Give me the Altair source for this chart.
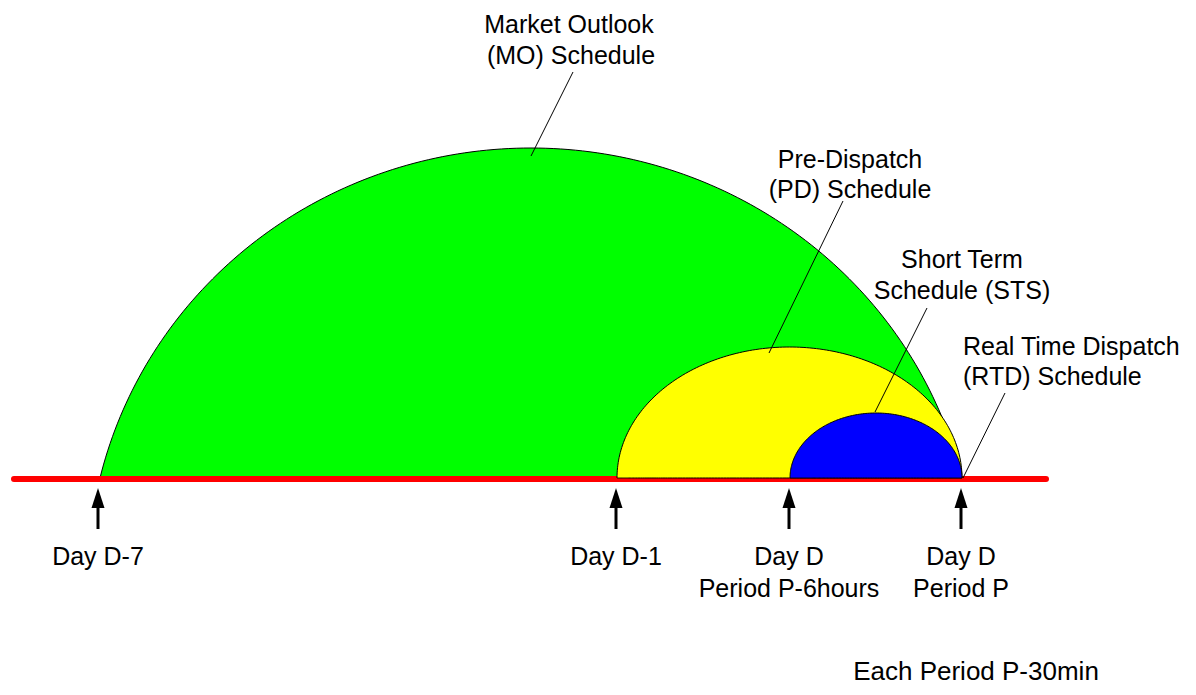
import altair as alt
import numpy as np
import pandas as pd

# ---- diagram values (reference-diagram units) ----
baseline_y = 478
timeline_x = [14, 1046]

event_x = [98, 616, 789, 961]
event_line1 = ["Day D-7", "Day D-1", "Day D", "Day D"]
event_line2 = ["", "", "Period P-6hours", "Period P"]

schedule_names = ["MO", "PD", "STS"]
schedule_start = [100, 617, 790]
schedule_end = [962, 962, 962]
schedule_top = [148, 347, 413]
schedule_depth = [100, 0, 0]   # how far the arc's centre sits below the timeline
schedule_color = ["#00ff00", "#ffff00", "#0000ff"]

center_text = ["Market Outlook", "(MO) Schedule", "Pre-Dispatch", "(PD) Schedule",
               "Short Term", "Schedule (STS)"]
center_text_x = [569, 571, 850, 850, 962, 962]
center_text_y = [33, 64, 168, 198, 268, 299]

left_text = ["Real Time Dispatch", "(RTD) Schedule"]
left_text_x = [963, 963]
left_text_y = [355, 385]

footer_text = ["Each Period P-30min"]
footer_x = [976]
footer_y = [680]

leader_x1 = [573, 843, 927, 1005]
leader_y1 = [72, 201, 308, 393]
leader_x2 = [531, 769, 875, 963]
leader_y2 = [156, 353, 412, 478]

FONT = "Liberation Sans"
W, H = 1180, 679
xs = alt.Scale(domain=[8, 8 + W])
ys = alt.Scale(domain=[8, 8 + H], reverse=True)


def X(f, **kw):
    return alt.X(f, type="quantitative", scale=xs, axis=None, **kw)


def Y(f, **kw):
    return alt.Y(f, type="quantitative", scale=ys, axis=None, **kw)


def dome(i):
    d = schedule_depth[i]
    half = (schedule_end[i] - schedule_start[i]) / 2
    cx = (schedule_start[i] + schedule_end[i]) / 2
    b = (baseline_y - schedule_top[i]) + d
    phi0 = np.arcsin(d / b)
    a = half / np.cos(phi0)
    phi = np.linspace(np.pi - phi0, phi0, 161)
    cy = baseline_y + d
    df = pd.DataFrame({"x": cx + a * np.cos(phi), "y": cy - b * np.sin(phi)})
    df["y0"] = baseline_y
    return (
        alt.Chart(df)
        .mark_area(color=schedule_color[i], stroke="black", strokeWidth=1, opacity=1)
        .encode(x=X("x"), y=Y("y", stack=None), y2="y0")
    )


timeline = (
    alt.Chart(pd.DataFrame({"x": [timeline_x[0]], "x2": [timeline_x[1]], "y": [baseline_y + 1]}))
    .mark_rule(color="#ff0000", strokeWidth=6, strokeCap="round")
    .encode(x=X("x"), x2="x2", y=Y("y"))
)

ev = pd.DataFrame({"x": event_x, "l1": event_line1, "l2": event_line2})
ev["stem_top"] = 505
ev["stem_bot"] = 529
ev["head"] = 498
ev["t1"] = 565
ev["t2"] = 597

stems = alt.Chart(ev).mark_rule(color="black", strokeWidth=3).encode(
    x=X("x"), y=Y("stem_top"), y2="stem_bot"
)
heads = alt.Chart(ev).mark_point(
    shape="M0,-1L0.65,1L-0.65,1Z", filled=True, size=400, color="black", opacity=1, strokeWidth=0
).encode(x=X("x"), y=Y("head"))
ev_text1 = alt.Chart(ev).mark_text(font=FONT, fontSize=25, baseline="alphabetic", align="center", color="black").encode(
    x=X("x"), y=Y("t1"), text="l1:N"
)
ev_text2 = alt.Chart(ev).mark_text(font=FONT, fontSize=25, baseline="alphabetic", align="center", color="black").encode(
    x=X("x"), y=Y("t2"), text="l2:N"
)

leaders = alt.Chart(pd.DataFrame({"x": leader_x1, "y": leader_y1, "x2": leader_x2, "y2": leader_y2})).mark_rule(
    color="black", strokeWidth=1
).encode(x=X("x"), y=Y("y"), x2="x2", y2="y2")

ctext = alt.Chart(pd.DataFrame({"x": center_text_x, "y": center_text_y, "t": center_text})).mark_text(
    font=FONT, fontSize=25, baseline="alphabetic", align="center", color="black"
).encode(x=X("x"), y=Y("y"), text="t:N")

ltext = alt.Chart(pd.DataFrame({"x": left_text_x, "y": left_text_y, "t": left_text})).mark_text(
    font=FONT, fontSize=25, baseline="alphabetic", align="left", color="black"
).encode(x=X("x"), y=Y("y"), text="t:N")

ftext = alt.Chart(pd.DataFrame({"x": footer_x, "y": footer_y, "t": footer_text})).mark_text(
    font=FONT, fontSize=26, baseline="alphabetic", align="center", color="black"
).encode(x=X("x"), y=Y("y"), text="t:N")

chart = (
    alt.layer(dome(0), timeline, dome(1), dome(2), leaders, stems, heads,
              ev_text1, ev_text2, ctext, ltext, ftext)
    .properties(width=W, height=H, autosize=alt.AutoSizeParams(type="none"), padding=0,
                background="white")
    .configure_view(stroke=None)
)

chart.save("out.html", embed_options={"renderer": "svg", "actions": False})
